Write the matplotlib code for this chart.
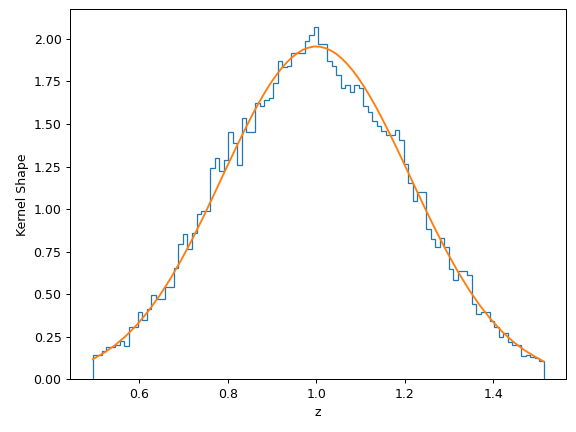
import numpy as np
import matplotlib
matplotlib.use("Agg")
import matplotlib.pyplot as plt

# histogram range and bin heights (density)
z_min, z_max = 0.495, 1.514
hist_values = [
    0.141, 0.141, 0.165, 0.19, 0.19, 0.20, 0.225, 0.195, 0.31, 0.31,
    0.394, 0.349, 0.413, 0.494, 0.47, 0.47, 0.545, 0.545, 0.653, 0.794,
    0.853, 0.766, 0.859, 0.97, 0.986, 0.99, 1.241, 1.30, 1.225, 1.29,
    1.453, 1.388, 1.256, 1.535, 1.453, 1.453, 1.624, 1.608, 1.643, 1.653,
    1.741, 1.868, 1.835, 1.839, 1.918, 1.918, 1.918, 1.986, 2.025, 2.07,
    1.972, 1.972, 1.868, 1.843, 1.79, 1.712, 1.728, 1.686, 1.726, 1.712,
    1.608, 1.568, 1.515, 1.49, 1.457, 1.437, 1.437, 1.466, 1.404, 1.265,
    1.153, 1.045, 1.10, 1.10, 0.882, 0.825, 0.776, 0.83, 0.776, 0.647,
    0.584, 0.639, 0.639, 0.61, 0.441, 0.384, 0.398, 0.398, 0.345, 0.31,
    0.246, 0.274, 0.221, 0.20, 0.20, 0.137, 0.145, 0.13, 0.125, 0.11,
]

# kernel curve points
curve_z = [0.495, 0.52, 0.545, 0.57, 0.595, 0.62, 0.645, 0.67, 0.695, 0.72,
           0.745, 0.77, 0.795, 0.82, 0.845, 0.8575, 0.87, 0.8825, 0.895,
           0.9075, 0.92, 0.9325, 0.945, 0.9575, 0.97, 0.9825, 0.995, 1.0075,
           1.02, 1.0325, 1.045, 1.0575, 1.07, 1.0825, 1.095, 1.1075, 1.12,
           1.1325, 1.145, 1.17, 1.195, 1.22,
           1.245, 1.27, 1.295, 1.32, 1.345, 1.37, 1.395, 1.42, 1.445, 1.47,
           1.495, 1.514]
curve_k = [0.118, 0.155, 0.200, 0.255, 0.321, 0.399, 0.488, 0.589, 0.702, 0.824,
           0.955, 1.092, 1.231, 1.368, 1.500, 1.563, 1.623, 1.679, 1.732,
           1.779, 1.822, 1.859, 1.891, 1.916, 1.936, 1.948, 1.955, 1.954,
           1.946, 1.932, 1.912, 1.885, 1.852, 1.814, 1.770, 1.721, 1.668,
           1.611, 1.551, 1.422, 1.286, 1.147,
           1.009, 0.876, 0.750, 0.633, 0.527, 0.433, 0.351, 0.280, 0.221, 0.172,
           0.132, 0.105]

edges = np.linspace(z_min, z_max, len(hist_values) + 1)
values = np.array(hist_values)

fig = plt.figure(figsize=(6.4, 4.8), dpi=90)
ax = fig.add_subplot(111)
fig.subplots_adjust(left=0.122, right=0.983, bottom=0.122, top=0.9785)

ax.hist(edges[:-1], bins=edges, weights=values, histtype='step', color='C0')
ax.plot(curve_z, curve_k, color='C1')

ax.set_xlabel('z')
ax.set_ylabel('Kernel Shape')

fig.savefig('out.png', dpi=90)
